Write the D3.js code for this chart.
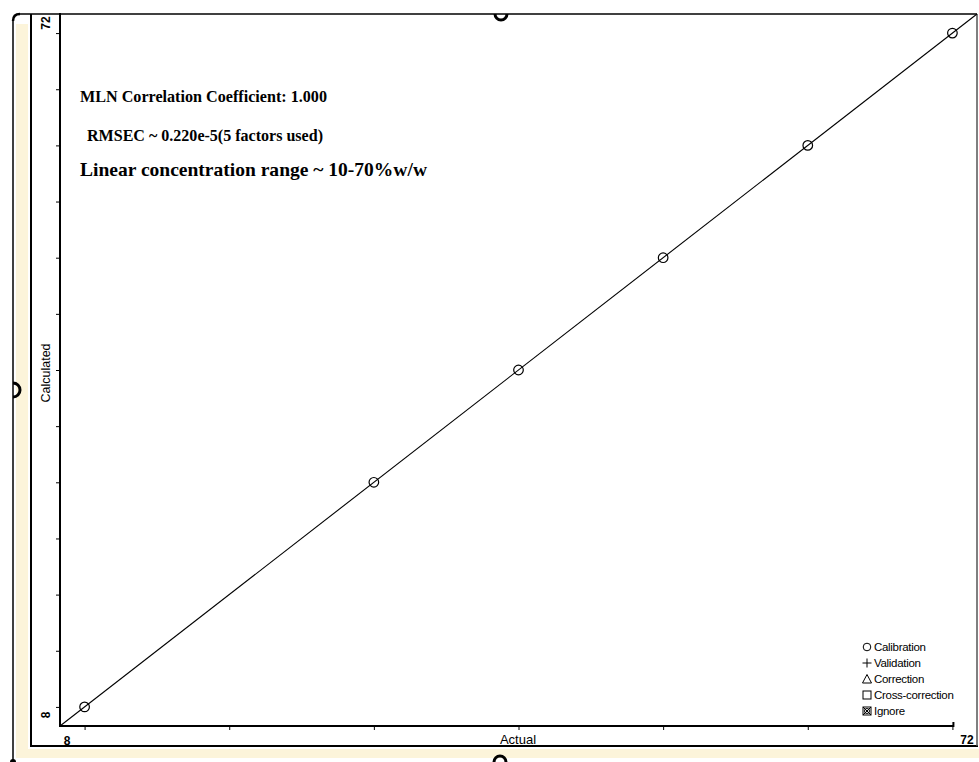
<!DOCTYPE html>
<html>
<head>
<meta charset="utf-8">
<script src="https://cdn.jsdelivr.net/npm/d3@7"></script>
<style>
html,body{margin:0;padding:0;background:#fff;}
svg{display:block;}
</style>
</head>
<body>
<svg id="chart" width="979" height="762"></svg>
<script>
// ---- data ----
const actual = [10, 30, 40, 50, 60, 70];
const calculated = [10, 30, 40, 50, 60, 70];
const axisDomain = [8.3, 71.7];
const axisEndLabels = ["8", "72"];
const xTickValues = [10, 20, 30, 40, 50, 60, 70];
const yTickValues = [10, 15, 20, 25, 30, 35, 40, 45, 50, 55, 60, 65, 70];
const annotations = [
  "MLN Correlation Coefficient: 1.000",
  "RMSEC ~ 0.220e-5(5 factors used)",
  "Linear concentration range ~ 10-70%w/w"
];
const legendItems = ["Calibration", "Validation", "Correction", "Cross-correction", "Ignore"];
const xTitle = "Actual";
const yTitle = "Calculated";

const svg = d3.select("#chart");

// ---- background frame (screenshot window) ----
const cream = "#fcf4da";
svg.append("rect").attr("x", 16).attr("y", 24).attr("width", 12).attr("height", 734).attr("fill", cream);
svg.append("rect").attr("x", 16).attr("y", 749).attr("width", 963).attr("height", 9).attr("fill", cream);

const frame = svg.append("g").attr("fill", "none").attr("stroke", "#000");
frame.append("line").attr("x1", 20).attr("y1", 14).attr("x2", 977).attr("y2", 14).attr("stroke-width", 1.6);
frame.append("line").attr("x1", 13).attr("y1", 21).attr("x2", 13).attr("y2", 760).attr("stroke-width", 1.5);
frame.append("path").attr("d", "M13,21 Q13,14 20,14").attr("stroke-width", 2.5);
frame.append("line").attr("x1", 31).attr("y1", 14).attr("x2", 31).attr("y2", 747).attr("stroke-width", 2);
frame.append("line").attr("x1", 30).attr("y1", 746).attr("x2", 978).attr("y2", 746).attr("stroke-width", 2);
frame.append("line").attr("x1", 977).attr("y1", 14).attr("x2", 977).attr("y2", 746).attr("stroke", "#555").attr("stroke-width", 1.5);
// resize handles
frame.append("path").attr("d", "M495,14 A6,6 0 0 0 507,14").attr("stroke-width", 3);
frame.append("path").attr("d", "M13,383 A7,7 0 0 1 13,397").attr("stroke-width", 3);
frame.append("path").attr("d", "M494,762 A6,6 0 0 1 506,762").attr("stroke-width", 3);
svg.append("circle").attr("cx", 13).attr("cy", 762).attr("r", 3).attr("fill", "#000");

// ---- scales ----
const x = d3.scaleLinear().domain(axisDomain).range([60, 977]);
const y = d3.scaleLinear().domain(axisDomain).range([726, 14]);

// ---- axes ----
const xAxis = d3.axisBottom(x).tickValues(xTickValues).tickSize(4).tickFormat("");
const yAxis = d3.axisLeft(y).tickValues(yTickValues).tickSize(4).tickFormat("");
const gx = svg.append("g").attr("transform", "translate(0,726)").call(xAxis);
gx.select(".domain").remove();
gx.selectAll(".tick line").attr("stroke", "#000").attr("stroke-width", 1);
const gy = svg.append("g").attr("transform", "translate(60,0)").call(yAxis);
gy.select(".domain").remove();
gy.selectAll(".tick line").attr("stroke", "#000").attr("stroke-width", 1);

svg.append("line").attr("x1", 60).attr("y1", 13).attr("x2", 60).attr("y2", 727)
  .attr("stroke", "#000").attr("stroke-width", 2);
svg.append("path").attr("d", `M59,726 H${x(70) + 1} V722`)
  .attr("fill", "none").attr("stroke", "#000").attr("stroke-width", 2);

// axis end labels
const sans = "'Liberation Sans', Arial, sans-serif";
svg.append("text").attr("x", 67).attr("y", 745).attr("text-anchor", "middle")
  .attr("font-family", sans).attr("font-size", 12).attr("font-weight", "bold").text(axisEndLabels[0]);
svg.append("text").attr("x", 967).attr("y", 744).attr("text-anchor", "middle")
  .attr("font-family", sans).attr("font-size", 12).attr("font-weight", "bold").text(axisEndLabels[1]);
svg.append("text").attr("transform", "translate(50,715) rotate(-90)").attr("text-anchor", "middle")
  .attr("font-family", sans).attr("font-size", 12).attr("font-weight", "bold").text(axisEndLabels[0]);
svg.append("text").attr("transform", "translate(50,23) rotate(-90)").attr("text-anchor", "middle")
  .attr("font-family", sans).attr("font-size", 12).attr("font-weight", "bold").text(axisEndLabels[1]);

// axis titles
svg.append("text").attr("x", 518).attr("y", 744).attr("text-anchor", "middle")
  .attr("font-family", sans).attr("font-size", 13).text(xTitle);
svg.append("text").attr("transform", "translate(50,373) rotate(-90)").attr("text-anchor", "middle")
  .attr("font-family", sans).attr("font-size", 12.5).text(yTitle);

// ---- identity line ----
svg.append("line")
  .attr("x1", x(axisDomain[0])).attr("y1", y(axisDomain[0]))
  .attr("x2", x(axisDomain[1])).attr("y2", y(axisDomain[1]))
  .attr("stroke", "#000").attr("stroke-width", 1.1);

// ---- points ----
svg.append("g").selectAll("circle").data(actual).join("circle")
  .attr("cx", d => x(d)).attr("cy", (d, i) => y(calculated[i])).attr("r", 4.8)
  .attr("fill", "none").attr("stroke", "#000").attr("stroke-width", 1.2);

// ---- annotations ----
const serif = "'Liberation Serif', 'Times New Roman', serif";
svg.append("text").attr("x", 80).attr("y", 102).attr("font-family", serif).attr("font-size", 16)
  .attr("font-weight", "bold").attr("textLength", 247).attr("lengthAdjust", "spacingAndGlyphs").text(annotations[0]);
svg.append("text").attr("x", 87).attr("y", 141).attr("font-family", serif).attr("font-size", 16)
  .attr("font-weight", "bold").attr("textLength", 236).attr("lengthAdjust", "spacingAndGlyphs").text(annotations[1]);
svg.append("text").attr("x", 80).attr("y", 176).attr("font-family", serif).attr("font-size", 19)
  .attr("font-weight", "bold").attr("textLength", 347).attr("lengthAdjust", "spacingAndGlyphs").text(annotations[2]);

// ---- legend ----
const lg = svg.append("g").attr("transform", "translate(867,0)");
const rowY = d3.scalePoint().domain(legendItems).range([647, 711]);
legendItems.forEach((name, i) => {
  const cy = rowY(name);
  const s = lg.append("g").attr("transform", `translate(0,${cy})`).attr("fill", "none").attr("stroke", "#000").attr("stroke-width", 1);
  if (i === 0) s.append("circle").attr("r", 3.8);
  if (i === 1) s.append("path").attr("d", "M-4.5,0H4.5M0,-4.5V4.5");
  if (i === 2) s.append("path").attr("d", "M0,-4.5L4.5,4H-4.5Z");
  if (i === 3) s.append("rect").attr("x", -4).attr("y", -4).attr("width", 8).attr("height", 8);
  if (i === 4) {
    s.append("rect").attr("x", -4).attr("y", -4).attr("width", 8).attr("height", 8);
    s.append("circle").attr("r", 2.5);
    s.append("path").attr("d", "M-4,-4L4,4M4,-4L-4,4");
  }
  lg.append("text").attr("x", 7).attr("y", cy + 4).attr("font-family", sans).attr("font-size", 11.5)
    .attr("letter-spacing", -0.3).text(name);
});
</script>
</body>
</html>
